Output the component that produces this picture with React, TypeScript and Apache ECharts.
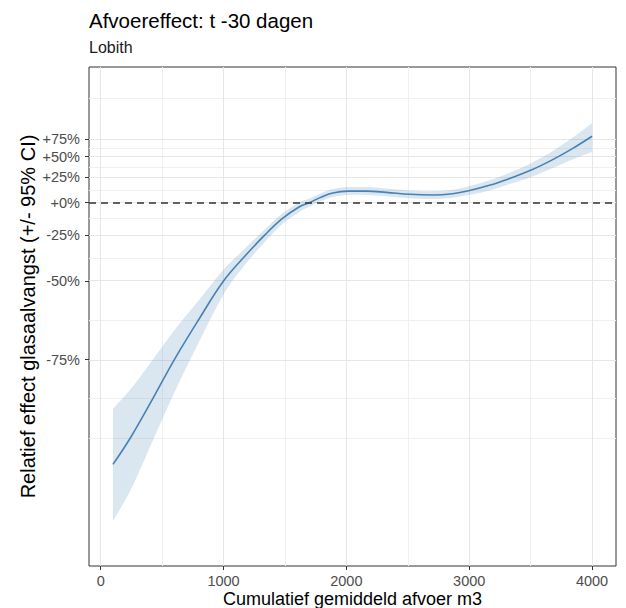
import React, { useEffect, useRef } from "react";
import * as echarts from "echarts";

// Discharge (x) sample points
const xs = [100, 250, 430, 600, 800, 1000, 1160, 1335, 1475, 1615, 1700, 1785, 1890, 2015, 2165, 2325, 2515, 2705, 2865, 3010, 3165, 3325, 3500, 3680, 3840, 4000];
// Relative effect (%), fitted line
const effectPct = [-90.1, -87.3, -82.1, -75.0, -64.3, -50.0, -38.7, -25.0, -13.4, -3.8, 0, 4.5, 8.9, 10.7, 10.7, 9.5, 7.6, 6.9, 8.2, 11.5, 16.5, 23.6, 33.0, 46.2, 61.1, 79.7];
// 95% CI bounds (%)
const lowerPct = [-94.0, -92.0, -87.6, -81.3, -70.8, -55.6, -43.4, -29.4, -17.6, -8.1, -3.4, 0.9, 5.1, 6.9, 6.9, 5.8, 3.9, 3.3, 4.5, 7.1, 11.4, 17.6, 25.2, 35.7, 46.5, 56.4];
const upperPct = [-83.8, -80.6, -74.8, -67.6, -57.7, -44.7, -34.3, -21.2, -9.4, 0.1, 3.6, 8.2, 12.7, 14.7, 14.7, 13.4, 11.4, 10.7, 12.1, 16.1, 21.9, 30.0, 41.2, 57.6, 77.2, 102.2];

// Axis ticks
const yTickPct = [-75, -50, -25, 0, 25, 50, 75];
const yMinorPct = [-87.5, -82.3, -64.6, -38.8, -13.4, 11.8, 36.9, 62.0, 150];
const xTicks = [0, 1000, 2000, 3000, 4000];
const xMinor = [500, 1500, 2500, 3500];

const FONT = "'Liberation Sans', Arial, Helvetica, sans-serif";
const toY = (p: number) => Math.log(1 + p / 100);

// Catmull-Rom spline through pixel points, as bezier path commands
function curveCmds(pts: number[][]): string {
  let d = "";
  const n = pts.length;
  for (let i = 0; i < n - 1; i++) {
    const p0 = pts[i - 1] || pts[i];
    const p1 = pts[i];
    const p2 = pts[i + 1];
    const p3 = pts[i + 2] || p2;
    const c1x = p1[0] + (p2[0] - p0[0]) / 6;
    const c1y = p1[1] + (p2[1] - p0[1]) / 6;
    const c2x = p2[0] - (p3[0] - p1[0]) / 6;
    const c2y = p2[1] - (p3[1] - p1[1]) / 6;
    d += ` C ${c1x} ${c1y} ${c2x} ${c2y} ${p2[0]} ${p2[1]}`;
  }
  return d;
}

export default function App() {
  const ref = useRef<HTMLDivElement>(null);
  useEffect(() => {
    if (!ref.current) return;
    const chart = echarts.init(ref.current, undefined, { renderer: "svg" });
    const major = { color: "#e6e6e6", width: 1, type: "solid" };
    const minor = { color: "#f0f0f0", width: 1, type: "solid" };
    const gridLines = [
      ...yMinorPct.map((p) => ({ yAxis: toY(p), lineStyle: minor })),
      ...xMinor.map((x) => ({ xAxis: x, lineStyle: minor })),
      ...yTickPct.map((p) => ({ yAxis: toY(p), lineStyle: major })),
      ...xTicks.map((x) => ({ xAxis: x, lineStyle: major })),
    ];
    const option: any = {
      animation: false,
      title: [
        { text: "Afvoereffect: t -30 dagen", left: 89, top: 10, padding: 0, textStyle: { fontFamily: FONT, fontSize: 20.5, fontWeight: "normal", color: "#000" } },
        { text: "Lobith", left: 89, top: 39.5, padding: 0, textStyle: { fontFamily: FONT, fontSize: 16, fontWeight: "normal", color: "#1a1a1a" } },
      ],
      grid: { left: 89, top: 67, width: 527, height: 499, show: true, borderColor: "#333", borderWidth: 1, backgroundColor: "transparent", containLabel: false, outerBoundsMode: "none" },
      xAxis: {
        type: "value",
        min: -95,
        max: 4195,
        name: "Cumulatief gemiddeld afvoer m3",
        nameLocation: "middle",
        nameGap: 24,
        nameMoveOverlap: false,
        nameTextStyle: { fontFamily: FONT, fontSize: 18, color: "#000" },
        axisLine: { show: false, onZero: false },
        axisTick: { show: true, length: 4, lineStyle: { color: "#333" }, customValues: xTicks },
        axisLabel: { fontFamily: FONT, fontSize: 14.5, color: "#4d4d4d", margin: 7, customValues: xTicks, formatter: (v: number) => String(v) },
        splitLine: { show: false },
      },
      yAxis: {
        type: "value",
        min: -3.21,
        max: 1.198,
        name: "Relatief effect glasaalvangst (+/- 95% CI)",
        nameLocation: "middle",
        nameRotate: 90,
        nameGap: 51,
        nameMoveOverlap: false,
        nameTextStyle: { fontFamily: FONT, fontSize: 20, color: "#000" },
        axisLine: { show: false, onZero: false },
        axisTick: { show: true, length: 4, lineStyle: { color: "#333" }, customValues: yTickPct.map(toY) },
        axisLabel: {
          fontFamily: FONT,
          fontSize: 14.5,
          color: "#4d4d4d",
          margin: 9,
          customValues: yTickPct.map(toY),
          formatter: (v: number) => {
            const p = Math.round((Math.exp(v) - 1) * 100);
            return (p >= 0 ? "+" : "") + p + "%";
          },
        },
        splitLine: { show: false },
      },
      series: [
        {
          type: "custom",
          z: 2,
          silent: true,
          clip: true,
          data: [[xs[0], toY(effectPct[0])]],
          renderItem: (_params: any, api: any) => {
            const up = xs.map((x, i) => api.coord([x, toY(upperPct[i])]));
            const lo = xs.map((x, i) => api.coord([x, toY(lowerPct[i])])).reverse();
            const d =
              `M ${up[0][0]} ${up[0][1]}` +
              curveCmds(up) +
              ` L ${lo[0][0]} ${lo[0][1]}` +
              curveCmds(lo) +
              " Z";
            return {
              type: "path",
              shape: { pathData: d },
              style: { fill: "rgba(70,130,180,0.2)", stroke: "none" },
            };
          },
          markLine: { silent: true, z: 1, symbol: ["none", "none"], label: { show: false }, data: gridLines },
        },
        {
          type: "line",
          z: 3,
          silent: true,
          smooth: 0.4,
          symbol: "none",
          lineStyle: { color: "#4682b4", width: 1.6 },
          data: xs.map((x, i) => [x, toY(effectPct[i])]),
          markLine: {
            silent: true,
            z: 4,
            symbol: ["none", "none"],
            label: { show: false },
            data: [{ yAxis: 0, lineStyle: { color: "#333", width: 1.6, type: [7, 5] } }],
          },
        },
      ],
    };
    chart.setOption(option);
    return () => chart.dispose();
  }, []);
  return <div ref={ref} style={{ width: 626, height: 608, position: "absolute", left: 0, top: 0 }} />;
}
